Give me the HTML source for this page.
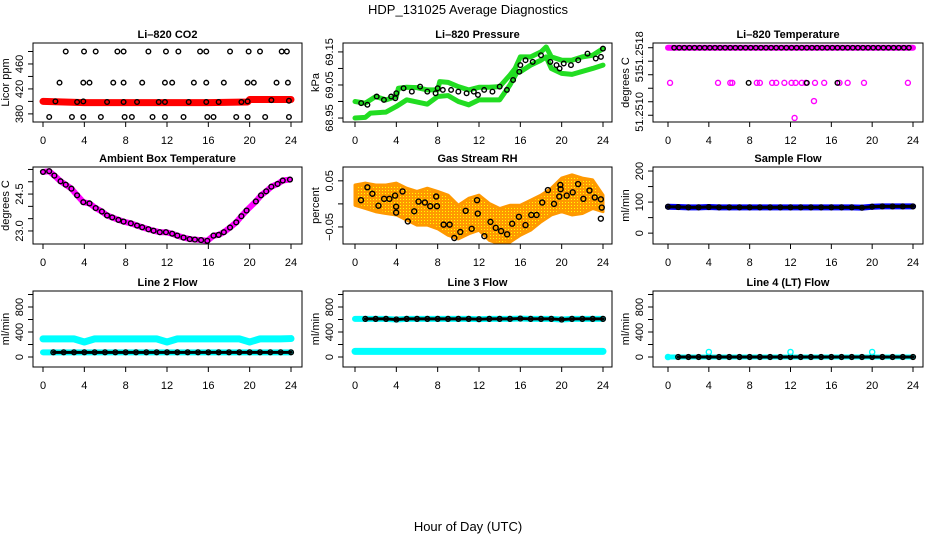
<!DOCTYPE html>
<html><head><meta charset="utf-8"><style>
html,body{margin:0;padding:0;background:#fff;}
svg{display:block;font-family:"Liberation Sans",Arial,sans-serif;}
</style></head><body>
<svg id="chart" width="936" height="540" viewBox="0 0 936 540" xmlns="http://www.w3.org/2000/svg">
<defs>
<pattern id="rhpat" width="3" height="3" patternUnits="userSpaceOnUse"><rect width="3" height="3" fill="#ff9900"/><rect x="1" y="1" width="1" height="1" fill="#ffff00"/></pattern>
</defs>
<text x="468" y="14" text-anchor="middle" font-size="13">HDP_131025  Average Diagnostics</text>
<text x="468" y="531" text-anchor="middle" font-size="13">Hour of Day (UTC)</text>
</svg>
<script>
// ---------- data ----------
const xTicks = [0,4,8,12,16,20,24];
// CO2
const co2RedHours = [0,4,8,12,16,19.8,20,24];
const co2RedVals = [400,398,398,398,398,399,403,403];
const co2BlackHours = [2.2,3.97,5.1,7.2,7.8,10.2,11.9,13.1,15.2,15.8,18.1,19.9,21.0,23.1,23.6,
 1.6,3.9,4.5,6.8,7.8,9.6,11.8,12.5,14.6,15.8,17.5,19.8,20.4,22.6,23.7,
 0.6,2.8,3.9,5.6,7.9,8.6,10.6,11.8,13.6,15.9,16.5,18.7,19.8,21.5,23.8,
 1.2,3.3,3.9,6.2,7.8,9.1,11.2,11.8,14.1,15.8,17.0,19.2,19.8,22.1,23.8];
const co2BlackVals = [480,480,480,480,480,480,480,480,480,480,480,480,480,480,480,
 430,430,430,430,430,430,430,430,430,430,430,430,430,430,430,
 375,375,375,375,375,375,375,375,375,375,375,375,375,375,375,
 400,399,400,399,399,399,399,399,399,399,399,399,400,402,401];
// Pressure
const presUpHours = [0,1,2,3,4,4.2,5,6,7,8,8.2,9,10,11,12,13,14,15,15.5,16,17,18,18.5,19,20,21,22,23,24];
const presUpVals = [69.000,68.995,69.015,69.005,69.015,69.040,69.043,69.042,69.035,69.035,69.060,69.058,69.045,69.035,69.043,69.043,69.045,69.080,69.100,69.135,69.135,69.150,69.165,69.135,69.125,69.125,69.135,69.140,69.160];
const presLoHours = [0,1,1.5,3,4,5,7,8,9,10,11,12,14,15,15.7,16,17,18,18.5,19,20,21,23,24];
const presLoVals = [68.950,68.952,68.965,68.968,68.985,69.005,68.992,69.015,69.018,69.000,68.990,69.005,69.005,69.050,69.090,69.090,69.110,69.125,69.135,69.100,69.085,69.082,69.100,69.110];
const presBlackHours = [0.6,1.2,2.1,2.8,3.5,3.9,4.0,4.7,5.5,6.3,7.0,7.8,8.0,8.5,9.3,10.0,10.8,11.5,11.9,12.5,13.3,14.0,14.7,15.3,15.9,16.0,16.5,17.2,18.0,18.9,19.5,19.8,20.2,20.9,21.6,22.5,23.3,23.8,24.0];
const presBlackVals = [68.995,68.990,69.015,69.005,69.015,69.010,69.025,69.040,69.030,69.045,69.030,69.025,69.040,69.035,69.035,69.030,69.025,69.030,69.020,69.035,69.030,69.045,69.035,69.065,69.090,69.110,69.125,69.120,69.140,69.120,69.110,69.100,69.115,69.110,69.125,69.145,69.130,69.135,69.160];
// Li-820 temperature
const tempMainHours = [0,24];
const tempMainVals = [51.2518,51.2518];
const tempMagHours = [0.2,4.9,6.1,6.3,8.7,9.0,10.2,10.6,11.4,12.1,12.5,13.1,13.5,14.4,15.3,16.8,17.6,19.2,23.5,14.3,12.4];
const tempMagVals = [51.25128,51.25128,51.25128,51.25128,51.25128,51.25128,51.25128,51.25128,51.25128,51.25128,51.25128,51.25128,51.25128,51.25128,51.25128,51.25128,51.25128,51.25128,51.25128,51.25101,51.25076];
const tempBlackHours = [7.9,13.6,16.6];
const tempBlackVals = [51.25128,51.25128,51.25128];
// Ambient box temperature
const ambHours = [0,0.6,1.1,1.7,2.2,2.75,3.3,3.9,4.5,5.1,5.7,6.2,6.7,7.3,7.8,8.5,9.1,9.6,10.2,10.7,11.3,11.9,12.5,13.0,13.6,14.2,14.7,15.3,15.9,16.5,17.0,17.5,18.1,18.7,19.2,19.7,20.6,21.1,21.6,22.1,22.7,23.2,23.9];
const ambVals = [25.40,25.43,25.25,25.02,24.88,24.72,24.45,24.17,24.12,23.93,23.79,23.63,23.55,23.45,23.38,23.31,23.22,23.15,23.07,23.01,22.95,22.95,22.89,22.81,22.73,22.67,22.65,22.63,22.60,22.81,22.84,22.95,23.14,23.35,23.60,23.83,24.20,24.45,24.61,24.80,24.91,25.05,25.09];
// Gas stream RH
const rhBandHours = [0,1,2,3,4,5,6,7,8,9,10,11,12,13,14,15,16,17,18,19,20,21,22,23,24];
const rhUpper = [0.041,0.045,0.041,0.041,0.045,0.034,0.027,0.034,0.027,0.019,-0.003,0.012,0.019,0.001,-0.010,-0.003,-0.003,0.008,0.019,0.034,0.056,0.063,0.056,0.052,0.019];
const rhLower = [-0.003,-0.010,-0.017,-0.021,-0.024,-0.035,-0.046,-0.046,-0.054,-0.068,-0.076,-0.065,-0.057,-0.079,-0.087,-0.083,-0.068,-0.057,-0.039,-0.024,-0.017,-0.024,-0.021,-0.010,-0.017];
const rhHours = [0.58,1.20,1.68,2.27,2.82,3.33,3.88,3.98,3.98,4.60,5.11,5.73,6.15,6.76,7.28,7.86,7.93,8.58,9.16,9.61,10.19,10.71,11.29,11.81,11.88,12.52,13.11,13.62,14.14,14.72,15.21,15.86,16.50,17.06,17.57,18.12,18.67,19.26,19.77,19.87,19.90,20.49,21.07,21.59,22.10,22.69,23.20,23.79,23.88,23.79];
const rhVals = [0.008,0.036,0.022,-0.004,0.011,0.011,0.018,-0.006,-0.019,0.027,-0.038,-0.016,0.005,0.003,-0.005,0.016,-0.005,-0.045,-0.045,-0.074,-0.061,-0.015,-0.054,0.008,-0.021,-0.070,-0.039,-0.052,-0.059,-0.066,-0.043,-0.028,-0.046,-0.024,-0.024,0.003,0.030,0.000,0.016,0.041,0.032,0.018,0.025,0.043,0.011,0.029,0.014,0.010,-0.008,-0.032];
// Flows (hourly)
const hrs = [0,1,2,3,4,5,6,7,8,9,10,11,12,13,14,15,16,17,18,19,20,21,22,23,24];
const sampleFlow = [85,84,83,83,84,83,83,83,83,83,83,83,83,83,83,83,83,83,83,82,85,86,86,86,86];
const line2Cyan = [290,290,290,290,240,290,290,290,290,290,290,290,240,290,290,290,290,290,290,290,240,290,290,290,295];
const line2Black = [75,75,75,75,75,75,75,75,75,75,75,75,75,75,75,75,75,75,75,75,75,75,75,75,75];
const line3Cyan = [90,90,90,90,90,90,90,90,90,90,90,90,90,90,90,90,90,90,90,90,90,90,90,90,90];
const line3Black = [610,610,610,610,600,610,610,610,610,610,610,610,605,610,610,610,615,610,610,610,600,610,610,610,610];
const line4Black = [0,0,0,0,0,0,0,0,0,0,0,0,0,0,0,0,0,0,0,0,0,0,0,0,0];
const line4CyanHours = [0,4,12,20];
const line4CyanVals = [0,80,80,80];

// ---------- drawing ----------
const NS = "http://www.w3.org/2000/svg";
const svg = document.getElementById('chart');
const colL=[33,343,653], colR=[302,612,923], colX0=[43,355,668], colX24=[291,603,913];
const rowT=[43,167,291], rowB=[122,244,367];
function mk(tag, attrs, parent){const e=document.createElementNS(NS,tag);for(const k in attrs)e.setAttribute(k,attrs[k]);(parent||svg).appendChild(e);return e;}

function panel(c,r,opt){
  const g=mk('g',{});
  
  
  const L=colL[c],R=colR[c],T=rowT[r],B=rowB[r];
  const sx=h=>colX0[c]+(colX24[c]-colX0[c])*h/24;
  const sy=v=>T+(opt.top-v)/(opt.top-opt.bot)*(B-T);
  const title=mk('text',{x:(L+R)/2,y:T-5,'text-anchor':'middle','font-size':11,'font-weight':'bold'},g);
  title.textContent=opt.title;
  
  
  const xa=mk('g',{},g);
  
  
  mk('line',{x1:sx(0),x2:sx(24),y1:B,y2:B,stroke:'#000'},xa);
  xTicks.forEach(t=>{
    mk('line',{x1:sx(t),x2:sx(t),y1:B,y2:B+5,stroke:'#000'},xa);
    const tx=mk('text',{x:sx(t),y:B+22,'text-anchor':'middle','font-size':11},xa);
    tx.textContent=t;
    
    
  });
  const ya=mk('g',{},g);
  
  
  const ts=opt.ticks;
  mk('line',{x1:L,x2:L,y1:sy(ts[0]),y2:sy(ts[ts.length-1]),stroke:'#000'},ya);
  ts.forEach(t=>mk('line',{x1:L,x2:L-5,y1:sy(t),y2:sy(t),stroke:'#000'},ya));
  opt.labels.forEach(([v,s])=>{
    const y=sy(v);
    const tx=mk('text',{x:L-10,y:y,'text-anchor':'middle','font-size':11,transform:`rotate(-90 ${L-10} ${y})`},ya);
    tx.textContent=s;
    
    
  });
  const yt=mk('text',{x:L-24,y:(T+B)/2,'text-anchor':'middle','font-size':11,transform:`rotate(-90 ${L-24} ${(T+B)/2})`},g);
  yt.textContent=opt.ytitle;
  
  
  const clip='clip'+c+r;
  const cp=mk('clipPath',{id:clip},g);mk('rect',{x:L,y:T,width:R-L,height:B-T},cp);
  const plot=mk('g',{'clip-path':`url(#${clip})`},g);
  
  
  opt.draw(plot,sx,sy);
  const box=mk('rect',{x:L,y:T,width:R-L,height:B-T,fill:'none',stroke:'#000'},g);
  
  
}
function line(p,hs,vs,sx,sy,color,w,name){
  const pl=mk('polyline',{points:hs.map((h,i)=>sx(h)+','+sy(vs[i])).join(' '),fill:'none',stroke:color,'stroke-width':w,'stroke-linejoin':'round','stroke-linecap':'round'},p);
  
  
}
function pts(p,hs,vs,sx,sy,color,r,name,fill){
  hs.forEach((h,i)=>{
    const ci=mk('circle',{cx:sx(h),cy:sy(vs[i]),r:r,fill:fill||'none',stroke:color,'stroke-width':1.4},p);
    
    
  });
}
function rng(a,b,s){const o=[];for(let v=a;v<=b+1e-9;v+=s)o.push(+v.toFixed(6));return o;}

panel(0,0,{name:'co2-panel',title:'Li\u2013820 CO2',ytitle:'Licor ppm',top:493.6,bot:367,ticks:[380,400,420,440,460,480],labels:[[380,'380'],[420,'420'],[460,'460']],
 draw:(p,sx,sy)=>{line(p,co2RedHours,co2RedVals,sx,sy,'#ff0000',7,'co2-red-series');pts(p,co2BlackHours,co2BlackVals,sx,sy,'#000',2.3,'co2-point');}});
panel(1,0,{name:'pressure-panel',title:'Li\u2013820 Pressure',ytitle:'kPa',top:69.177,bot:68.938,ticks:rng(68.95,69.15,0.05),labels:[[68.95,'68.95'],[69.05,'69.05'],[69.15,'69.15']],
 draw:(p,sx,sy)=>{line(p,presLoHours,presLoVals,sx,sy,'#22dd22',5,'pressure-green-lower');line(p,presUpHours,presUpVals,sx,sy,'#22dd22',5,'pressure-green-upper');pts(p,presBlackHours,presBlackVals,sx,sy,'#000',2.3,'pressure-point');}});
panel(2,0,{name:'li820-temperature-panel',title:'Li\u2013820 Temperature',ytitle:'degrees C',top:51.25187,bot:51.2507,ticks:rng(51.2508,51.2518,0.0002),labels:[[51.25175,'51.2518'],[51.25138,'51'],[51.25085,'51.2510']],
 draw:(p,sx,sy)=>{line(p,tempMainHours,tempMainVals,sx,sy,'#ff00ff',6,'temp-magenta-series');
  const bh=rng(0.6,24,0.5);pts(p,bh,bh.map(()=>51.2518),sx,sy,'#000',2.2,'temp-black-point');
  pts(p,tempMagHours,tempMagVals,sx,sy,'#ff00ff',2.5,'temp-magenta-point');pts(p,tempBlackHours,tempBlackVals,sx,sy,'#000',2.3,'temp-black-point');}});
panel(0,1,{name:'ambient-temp-panel',title:'Ambient Box Temperature',ytitle:'degrees C',top:25.6,bot:22.47,ticks:rng(23,25.5,0.5),labels:[[23,'23.0'],[24.5,'24.5']],
 draw:(p,sx,sy)=>{line(p,ambHours,ambVals,sx,sy,'#ff00ff',6,'ambient-magenta-series');pts(p,ambHours,ambVals,sx,sy,'#000',2.4,'ambient-point');}});
panel(1,1,{name:'rh-panel',title:'Gas Stream RH',ytitle:'percent',top:0.08,bot:-0.087,ticks:[-0.05,0,0.05],labels:[[-0.05,'\u22120.05'],[0.05,'0.05']],
 draw:(p,sx,sy)=>{const up=rhBandHours.map((h,i)=>sx(h)+','+sy(rhUpper[i]));const lo=rhBandHours.map((h,i)=>sx(h)+','+sy(rhLower[i])).reverse();
  const band=mk('polygon',{points:up.concat(lo).join(' '),fill:'url(#rhpat)',stroke:'#ff9900','stroke-width':3,'stroke-linejoin':'round'},p);
  
  
  pts(p,rhHours,rhVals,sx,sy,'#000',2.5,'rh-point');}});
panel(2,1,{name:'sample-flow-panel',title:'Sample Flow',ytitle:'ml/min',top:213,bot:-35,ticks:rng(0,200,50),labels:[[0,'0'],[100,'100'],[200,'200']],
 draw:(p,sx,sy)=>{line(p,hrs,sampleFlow,sx,sy,'#0000ff',6,'sample-flow-blue');line(p,hrs,sampleFlow,sx,sy,'#000',3,'sample-flow-black');pts(p,hrs,sampleFlow,sx,sy,'#000',2.4,'sample-flow-point');}});
const flowTicks=rng(0,1000,200), flowLabels=[[0,'0'],[400,'400'],[800,'800']];
panel(0,2,{name:'line2-flow-panel',title:'Line 2 Flow',ytitle:'ml/min',top:1056,bot:-160,ticks:flowTicks,labels:flowLabels,
 draw:(p,sx,sy)=>{line(p,hrs,line2Cyan,sx,sy,'#00ffff',7,'line2-cyan-series');line(p,hrs,line2Black,sx,sy,'#00ffff',6,'line2-cyan-lower');line(p,hrs.slice(1),line2Black.slice(1),sx,sy,'#000',3,'line2-black-series');pts(p,hrs.slice(1),line2Black.slice(1),sx,sy,'#000',2.4,'line2-point');}});
panel(1,2,{name:'line3-flow-panel',title:'Line 3 Flow',ytitle:'ml/min',top:1056,bot:-160,ticks:flowTicks,labels:flowLabels,
 draw:(p,sx,sy)=>{line(p,hrs,line3Cyan,sx,sy,'#00ffff',7,'line3-cyan-series');line(p,hrs,line3Black,sx,sy,'#00ffff',6,'line3-cyan-upper');line(p,hrs.slice(1),line3Black.slice(1),sx,sy,'#000',3,'line3-black-series');pts(p,hrs.slice(1),line3Black.slice(1),sx,sy,'#000',2.4,'line3-point');}});
panel(2,2,{name:'line4-flow-panel',title:'Line 4 (LT) Flow',ytitle:'ml/min',top:1056,bot:-160,ticks:flowTicks,labels:flowLabels,
 draw:(p,sx,sy)=>{line(p,hrs,line4Black,sx,sy,'#00ffff',5,'line4-cyan-series');line(p,hrs.slice(1),line4Black.slice(1),sx,sy,'#000',3,'line4-black-series');pts(p,hrs.slice(1),line4Black.slice(1),sx,sy,'#000',2.4,'line4-point');pts(p,line4CyanHours,line4CyanVals,sx,sy,'#00ffff',2.6,'line4-cyan-point');}});
</script>
</body></html>
